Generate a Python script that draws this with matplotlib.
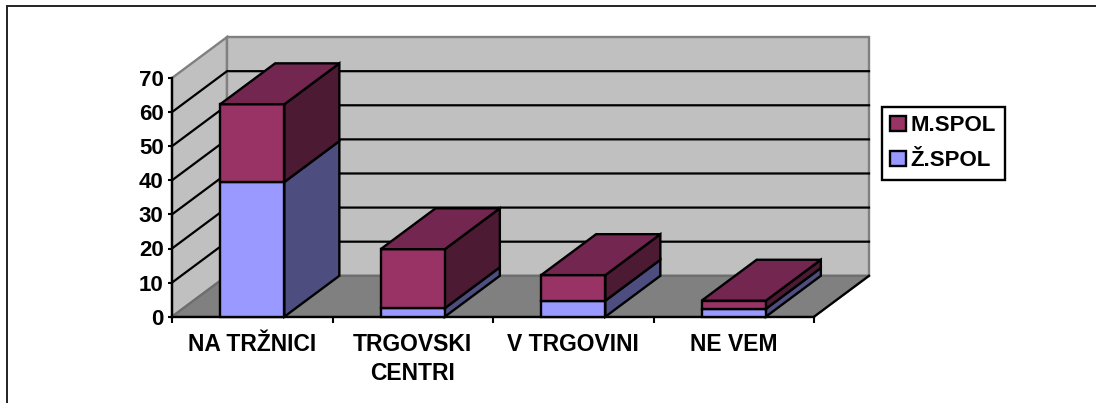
import matplotlib
matplotlib.use("Agg")
import numpy as np
import matplotlib.pyplot as plt
from matplotlib.patches import Patch, Polygon

categories = ["NA TRŽNICI", "TRGOVSKI\nCENTRI", "V TRGOVINI", "NE VEM"]
z_spol = [39.5, 2.5, 4.7, 2.3]
m_spol = [22.8, 17.3, 7.5, 2.4]
y_ticks = [0, 10, 20, 30, 40, 50, 60, 70]

W, H = 1096, 403
bar_width = 0.4
depth_x = 55 / 160.5
depth_y = 12.0

plt.rcParams["font.family"] = ["Liberation Sans", "DejaVu Sans"]
plt.rcParams["font.weight"] = "bold"
plt.rcParams["font.size"] = 16

fig = plt.figure(figsize=(W / 100, H / 100), dpi=100)
# frame only shows on the top and left of the picture
fig.add_artist(plt.Line2D([6.5 / W, 6.5 / W, 1], [0, 1 - 5.5 / H, 1 - 5.5 / H],
                          transform=fig.transFigure, color="#222222", lw=1.4, solid_joinstyle="miter"))
ax = fig.add_axes([172 / W, 1 - 316.7 / H, 642 / W, 238.7 / H])
ax.set_xlim(0, 4)
ax.set_ylim(0, 70)
for s in ax.spines.values():
    s.set_visible(False)
ax.patch.set_visible(False)


def poly(pts, face, edge="black", lw=1.7, z=2):
    ax.add_patch(Polygon(pts, closed=True, facecolor=face, edgecolor=edge, linewidth=lw,
                         zorder=z, clip_on=False, joinstyle="miter"))


# walls and floor
poly([(0, 0), (depth_x, depth_y), (depth_x, 70 + depth_y), (0, 70)], "#c0c0c0", "#808080", z=1)
poly([(depth_x, depth_y), (4 + depth_x, depth_y), (4 + depth_x, 70 + depth_y), (depth_x, 70 + depth_y)],
     "#c0c0c0", "#808080", z=1)
poly([(0, 0), (4, 0), (4 + depth_x, depth_y), (depth_x, depth_y)], "#808080", "#6e6e6e", z=1)

# gridlines
for v in y_ticks[1:-1]:
    ax.plot([0, depth_x, 4 + depth_x], [v, v + depth_y, v + depth_y], color="black", lw=1.6, zorder=1.5,
            clip_on=False, solid_joinstyle="miter")
ax.plot([4, 4 + depth_x], [0, depth_y], color="black", lw=1.6, zorder=1.5, clip_on=False)

# axes lines
ax.plot([0, 0], [0, 70], color="black", lw=1.7, zorder=1.6, clip_on=False)
ax.plot([0, 4], [0, 0], color="black", lw=1.7, zorder=1.6, clip_on=False)


def box(left, bottom, top, front, side, roof=None):
    right = left + bar_width
    poly([(right, bottom), (right + depth_x, bottom + depth_y), (right + depth_x, top + depth_y), (right, top)], side)
    poly([(left, bottom), (right, bottom), (right, top), (left, top)], front)
    if roof is not None:
        poly([(left, top), (right, top), (right + depth_x, top + depth_y), (left + depth_x, top + depth_y)], roof)


for i, (z_val, m_val) in enumerate(zip(z_spol, m_spol)):
    left = i + 0.5 - bar_width / 2
    box(left, 0, z_val, "#9999ff", "#4d4d80")
    box(left, z_val, z_val + m_val, "#993366", "#4d1a33", "#732650")

ax.set_yticks(y_ticks)
ax.set_xticks(np.arange(5))
ax.set_xticklabels([])
ax.set_xticks(np.arange(4) + 0.5, minor=True)
ax.set_xticklabels(categories, minor=True, fontsize=16.5, fontweight="bold", linespacing=1.3)
ax.tick_params(axis="x", which="major", length=4, width=1.5, direction="out")
ax.tick_params(axis="x", which="minor", length=0, pad=12)
ax.tick_params(axis="y", length=3, width=1.5, direction="out", pad=3, labelsize=16)

handles = [Patch(facecolor="#993366", edgecolor="black", linewidth=1.7, label="M.SPOL"),
           Patch(facecolor="#9999ff", edgecolor="black", linewidth=1.7, label="Ž.SPOL")]
leg = fig.legend(handles=handles, loc="upper left", bbox_to_anchor=(882 / W, 1 - 107 / H, 123 / W, 0), mode="expand",
                 fontsize=16, frameon=True, fancybox=False, edgecolor="black", framealpha=1, borderpad=0.38,
                 handlelength=0.7, handleheight=0.7, handletextpad=0.2, labelspacing=0.63, borderaxespad=0)
leg.get_frame().set_linewidth(1.7)

fig.savefig("out.png", dpi=100)
